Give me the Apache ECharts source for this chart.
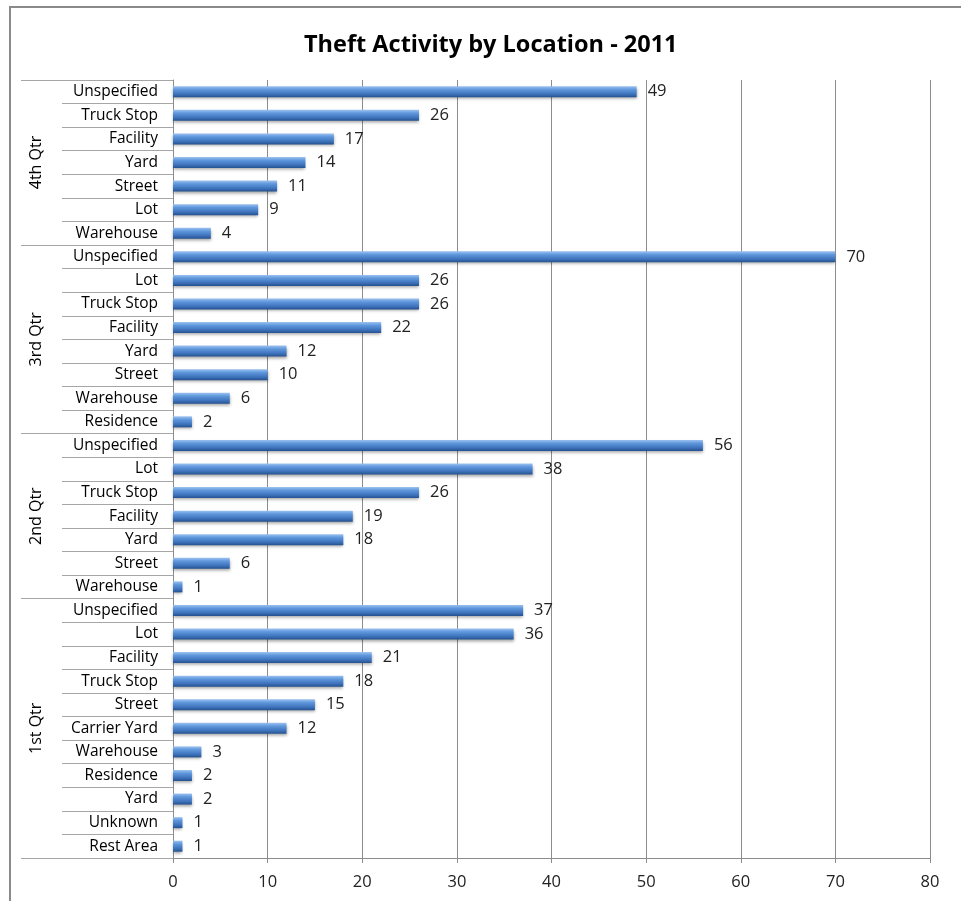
<!DOCTYPE html>
<html>
<head>
<meta charset="utf-8">
<script src="https://cdn.jsdelivr.net/npm/echarts@6/dist/echarts.min.js"></script>
<style>
  html, body { margin: 0; padding: 0; background: #fff; }
  #chart { width: 961px; height: 901px; }
</style>
</head>
<body>
<div id="chart"></div>
<script>
// rows listed bottom to top, as in the source sheet
var quarters = ['1st Qtr', '2nd Qtr', '3rd Qtr', '4th Qtr'];

var q1Labels = ['Rest Area', 'Unknown', 'Yard', 'Residence', 'Warehouse', 'Carrier Yard', 'Street', 'Truck Stop', 'Facility', 'Lot', 'Unspecified'];
var q1Values = [1, 1, 2, 2, 3, 12, 15, 18, 21, 36, 37];

var q2Labels = ['Warehouse', 'Street', 'Yard', 'Facility', 'Truck Stop', 'Lot', 'Unspecified'];
var q2Values = [1, 6, 18, 19, 26, 38, 56];

var q3Labels = ['Residence', 'Warehouse', 'Street', 'Yard', 'Facility', 'Truck Stop', 'Lot', 'Unspecified'];
var q3Values = [2, 6, 10, 12, 22, 26, 26, 70];

var q4Labels = ['Warehouse', 'Lot', 'Street', 'Yard', 'Facility', 'Truck Stop', 'Unspecified'];
var q4Values = [4, 9, 11, 14, 17, 26, 49];

var xTicks = [0, 10, 20, 30, 40, 50, 60, 70, 80];

var groupLabels = [q1Labels, q2Labels, q3Labels, q4Labels];
var groupValues = [q1Values, q2Values, q3Values, q4Values];

// flatten into one category axis, keys made unique with quarter prefix
var categories = [];
var values = [];
var bounds = [0];
var centers = [];
groupLabels.forEach(function (labels, g) {
    var start = categories.length;
    labels.forEach(function (name, i) {
        categories.push(g + '|' + name);
        values.push(groupValues[g][i]);
    });
    bounds.push(categories.length);
    centers.push((start + categories.length) / 2);
});

var font = 'Open Sans';
var gridColor = '#8c8c8c';

var chart = echarts.init(document.getElementById('chart'));

var option = {
    backgroundColor: '#fff',
    animation: false,
    title: {
        text: 'Theft Activity by Location - 2011',
        left: 299,
        top: 28,
        textStyle: {
            fontFamily: font,
            fontSize: 23.5,
            fontWeight: 'bold',
            color: '#000'
        }
    },
    graphic: [
        {
            type: 'rect',
            shape: { x: 10, y: 7, width: 1000, height: 1000 },
            style: { fill: 'none', stroke: '#8a8a8a', lineWidth: 2 },
            silent: true
        }
    ],
    grid: {
        left: 173,
        right: 31,
        top: 80,
        bottom: 43
    },
    xAxis: {
        type: 'value',
        min: 0,
        max: 80,
        interval: 10,
        axisLine: { show: true, lineStyle: { color: gridColor } },
        axisTick: { show: true, length: 5, lineStyle: { color: gridColor } },
        splitLine: { show: true, lineStyle: { color: gridColor } },
        axisLabel: {
            margin: 16,
            fontFamily: font,
            fontSize: 16.5,
            color: '#222',
            formatter: function (v) { return xTicks.indexOf(v) >= 0 ? String(v) : ''; }
        }
    },
    yAxis: [
        {
            type: 'category',
            data: categories,
            axisLine: { show: true, lineStyle: { color: gridColor } },
            axisTick: { show: true, length: 111, interval: 0, lineStyle: { color: '#a6a6a6' } },
            axisLabel: {
                interval: 0,
                margin: 15,
                fontFamily: font,
                fontSize: 15.5,
                color: '#000',
                formatter: function (v) { return v.split('|')[1]; }
            }
        },
        {
            type: 'value',
            min: 0,
            max: categories.length,
            position: 'left',
            axisLine: { show: false },
            splitLine: { show: false },
            axisTick: {
                show: true,
                length: 152,
                customValues: bounds,
                lineStyle: { color: '#a6a6a6' }
            },
            axisLabel: {
                show: true,
                customValues: centers,
                rotate: 90,
                margin: 129,
                fontFamily: font,
                fontSize: 16,
                color: '#000',
                formatter: function (v) {
                    var i = centers.indexOf(v);
                    return i >= 0 ? quarters[i] : '';
                }
            }
        }
    ],
    series: [
        {
            type: 'bar',
            yAxisIndex: 0,
            data: values,
            barWidth: 11,
            itemStyle: {
                color: new echarts.graphic.LinearGradient(0, 0, 0, 1, [
                    { offset: 0, color: '#9cc2f0' },
                    { offset: 0.3, color: '#5f97dc' },
                    { offset: 0.7, color: '#3f74bd' },
                    { offset: 1, color: '#24518f' }
                ]),
                shadowColor: 'rgba(0,0,0,0.35)',
                shadowBlur: 3,
                shadowOffsetY: 2
            },
            label: {
                show: true,
                position: 'right',
                distance: 11,
                fontFamily: font,
                fontSize: 16.5,
                color: '#222'
            }
        }
    ]
};

chart.setOption(option);
</script>
</body>
</html>
